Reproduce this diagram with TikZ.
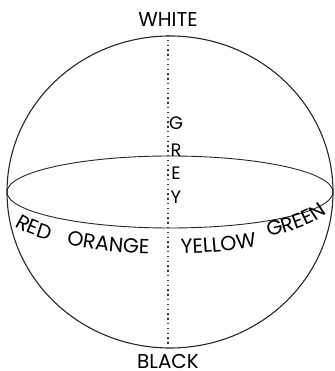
\documentclass[tikz,border=0pt]{standalone}
\usepackage{fontspec}
\setmainfont{Poppins}
\usetikzlibrary{decorations.text}
\newcommand{\huefont}{\fontsize{20.5}{24}\selectfont}
\newcommand{\polefont}{\fontsize{20}{23}\selectfont}

\begin{document}
\begin{tikzpicture}[x=1pt, y=1pt,
  rim/.style={draw=black!85, line width=1.1pt},
  equator/.style={draw=black!85, line width=0.9pt},
  axisline/.style={draw=black!80, line width=1.4pt, dash pattern=on 1.4pt off 3.4pt},
  pole/.style={font=\polefont, inner sep=0pt},
  greyletter/.style={font=\fontsize{18}{20}\selectfont, inner sep=0pt},
  hue/.style={decorate, decoration={text along path, text align=left,
              text={|\huefont|#1}}}
]
\useasboundingbox (0,0) rectangle (334,371);
\coordinate (c)   at (170,179);
\coordinate (top) at (168,336);
\coordinate (bot) at (168,24);
\draw[rim]     (c) ellipse[x radius=163, y radius=156];
\draw[equator] (c) ellipse[x radius=163, y radius=36];
\draw[axisline] (top) -- (bot);
\node[pole] (white) at (168,351) {WHITE};
\node[pole] (black) at (168,9)   {BLACK};
\foreach \l/\y [count=\i] in {G/123,R/150,E/173,Y/197}
  \node[greyletter] (grey\i) at (176,371-\y) {\l};
% hue names along the front of the equator
\coordinate (txt) at (168,162);
\path[hue=RED]    (txt) ++(202:165 and 45) arc[start angle=202, end angle=262, x radius=165, y radius=45];
\path[hue=ORANGE] (txt) ++(232:165 and 45) arc[start angle=232, end angle=300, x radius=165, y radius=45];
\path[hue=YELLOW] (txt) ++(274.5:165 and 45) arc[start angle=274.5, end angle=340, x radius=165, y radius=45];
\path[hue=GREEN]  (txt) ++(0,8) ++(307.5:165 and 45) arc[start angle=307.5, end angle=362, x radius=165, y radius=45];
\end{tikzpicture}
\end{document}
